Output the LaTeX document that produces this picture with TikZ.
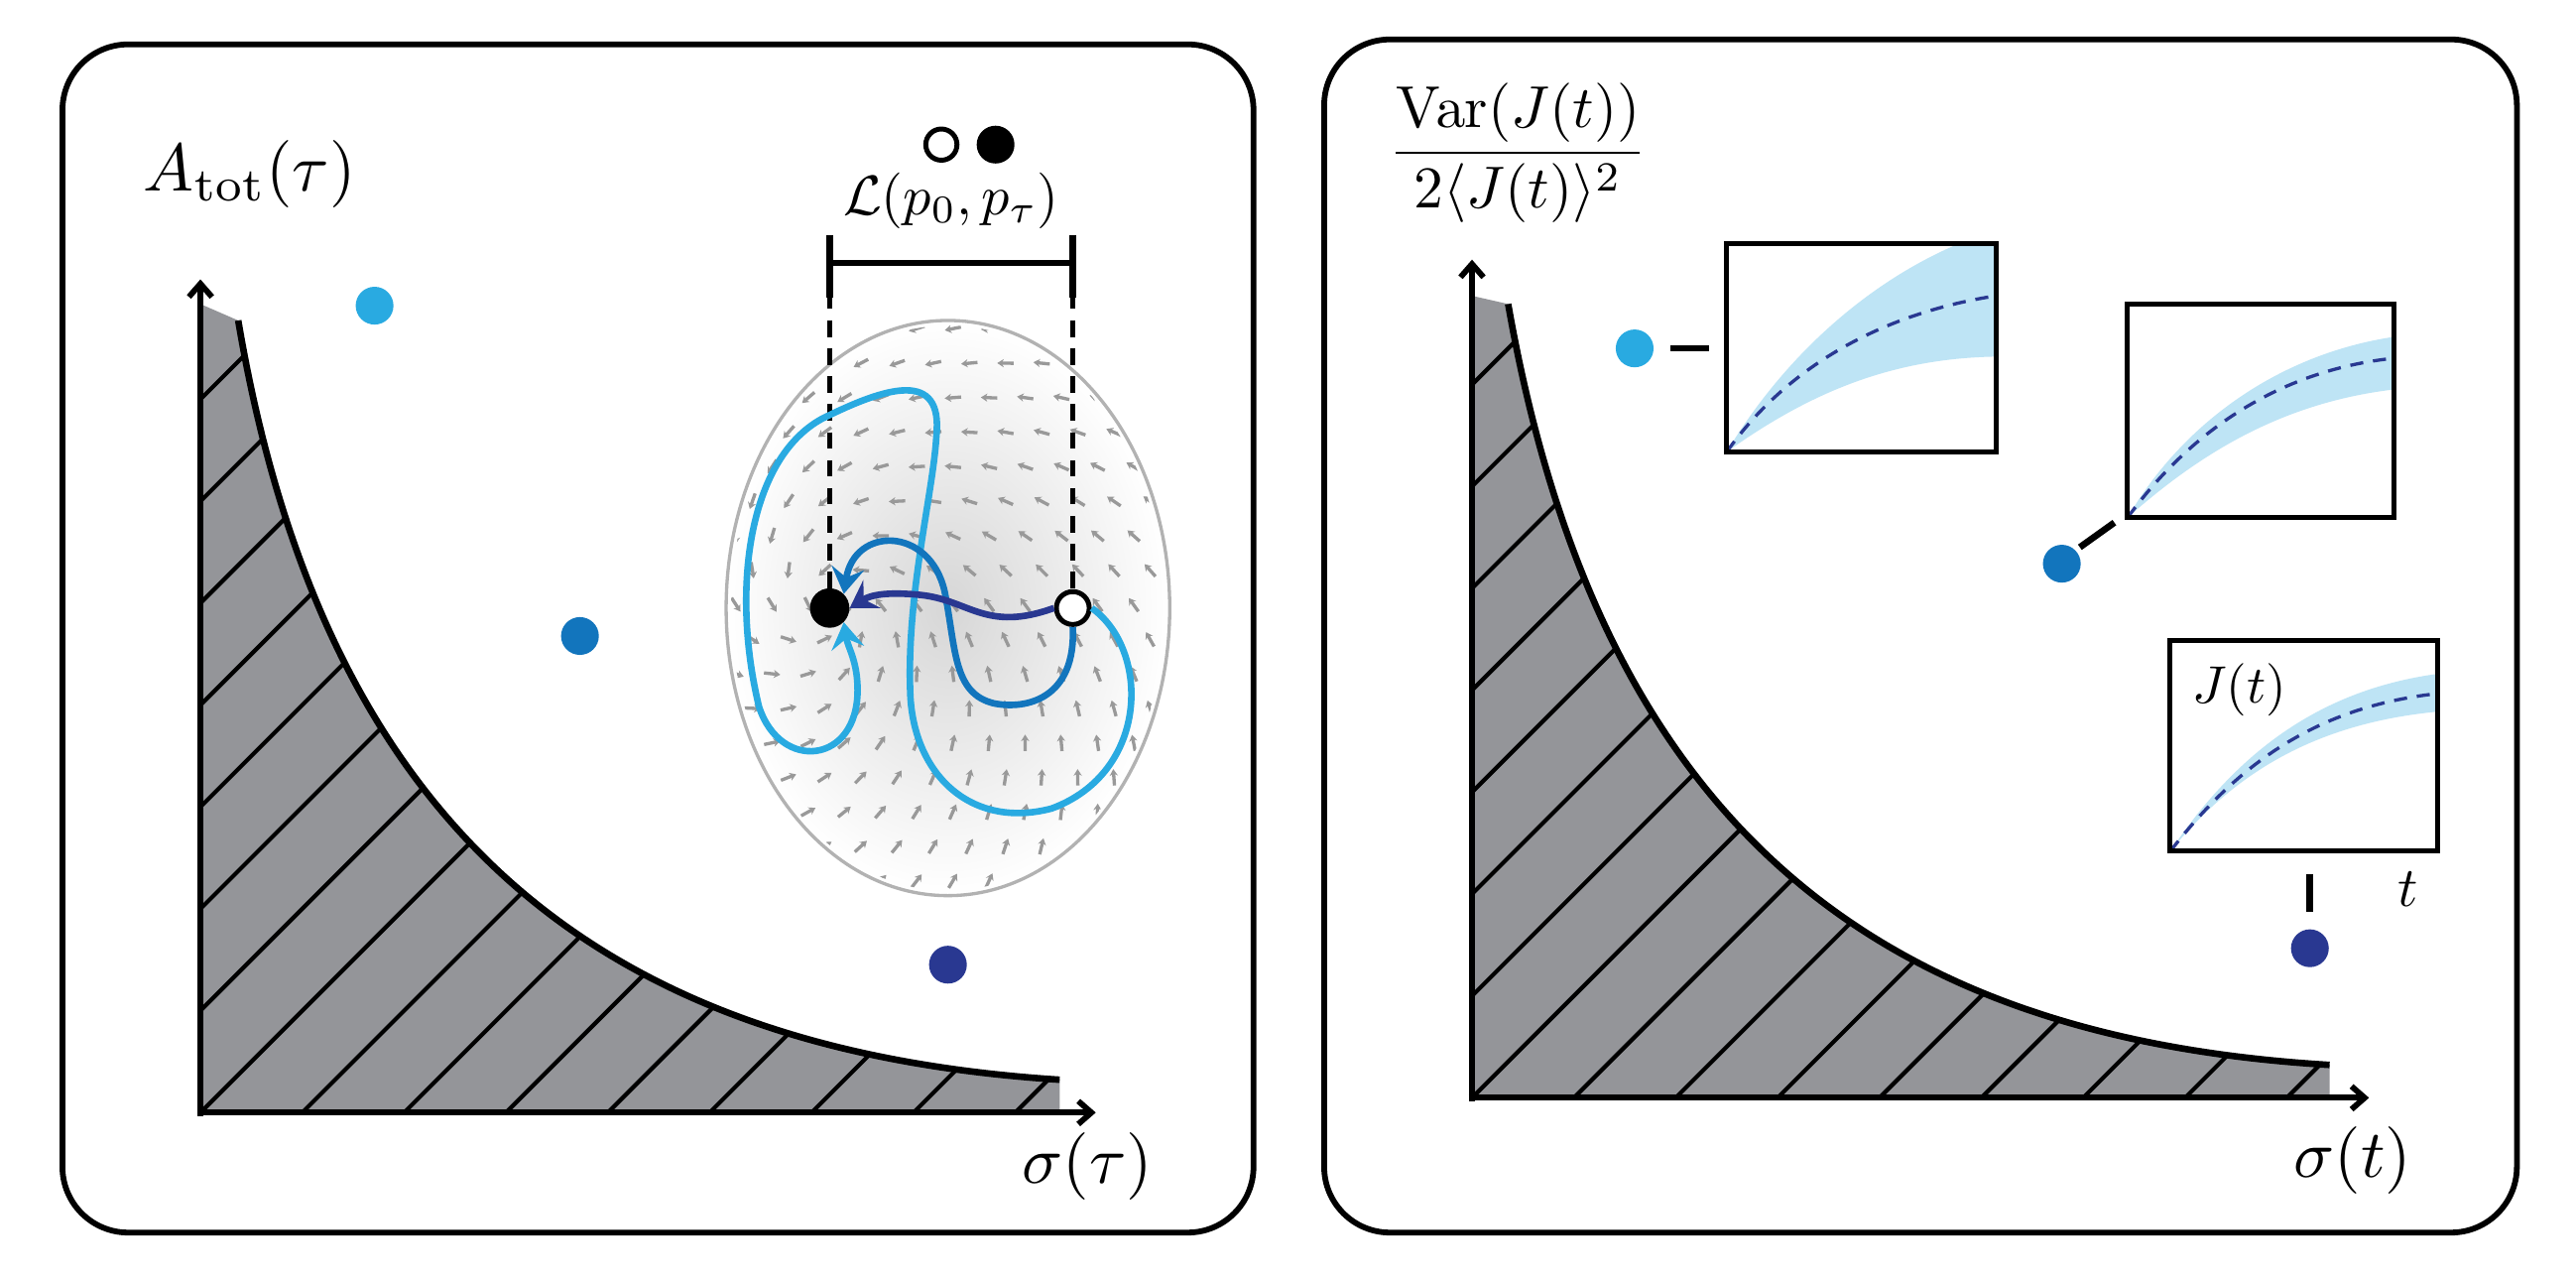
\documentclass[tikz,border=0pt]{standalone}
\usepackage{amsmath}
\usepackage{graphicx}
\usetikzlibrary{arrows.meta}
\definecolor{cLight}{RGB}{41,170,225}
\definecolor{cMid}{RGB}{18,117,189}
\definecolor{cDark}{RGB}{41,56,145}
\definecolor{band}{RGB}{190,228,245}
\definecolor{shd}{RGB}{148,149,153}
\begin{document}
\begin{tikzpicture}[x=1pt,y=-1pt,
  panel/.style={draw,line width=3.5pt,rounded corners=40pt},
  axis/.style={line width=3.5pt,-{Straight Barb[length=8pt,width=14pt]}},
  bound/.style={line width=4pt},
  hatch/.style={line width=2.5pt},
  dotp/.style={circle,inner sep=0pt,minimum size=23pt},
  inset/.style={draw,line width=3pt,fill=white},
  tick/.style={line width=4pt},
  traj/.style={line width=4pt,-{Stealth[length=16pt,width=20pt,inset=6pt]}},
  mean/.style={cDark,line width=2pt,dash pattern=on 8pt off 6pt}]
\useasboundingbox (0,0) rectangle (1568,778);
\fill[white] (0,0) rectangle (1568,778);
% panels
\draw[panel] (38,27) rectangle (763,750);
\draw[panel] (806,24) rectangle (1532,750);
% ---- left plot
\begin{scope}
\clip (122,677)--(122,185)--(145,195) .. controls (200,520) and (380,640) .. (645,657) -- (645,677) -- cycle;
\fill[shd] (100,100) rectangle (700,700);
\foreach \k in {-10,...,9} \draw[hatch] (122+\k*62-70,747) -- ++(780,-780);
\end{scope}
\draw[bound] (145,195) .. controls (200,520) and (380,640) .. (645,657);
\draw[axis] (122,679) -- (122,170);
\draw[axis] (120,677) -- (667,677);
\node (ya) at (152,106) {\scalebox{4.1}{$A_{\rm tot}(\tau)$}};
\node (xa) at (662,710) {\scalebox{4.1}{$\sigma(\tau)$}};
\node[dotp,fill=cLight] (l1) at (228,186) {};
\node[dotp,fill=cMid] (l2) at (353,387) {};
\node[dotp,fill=cDark] (l3) at (577,587) {};
% ellipse
\shade[inner color=black!16,outer color=white] (577,370) ellipse (135 and 175);
\begin{scope}
\clip (577,370) ellipse (132 and 172);
\foreach \i in {0,...,12}{\foreach \j in {0,...,16}{
  \pgfmathsetmacro{\px}{448+\i*22+mod(\j,2)*10}
  \pgfmathsetmacro{\py}{200+\j*21}
  \pgfmathsetmacro{\dx}{505-\px}\pgfmathsetmacro{\dy}{370-\py}
  \pgfmathsetmacro{\ang}{atan2(\dy,\dx)+55}
  \draw[black!40,line width=2pt,-{Stealth[length=4pt,width=5pt]}] ({\px-5*cos(\ang)},{\py-5*sin(\ang)}) -- ++({10*cos(\ang)},{10*sin(\ang)});
}}
\end{scope}
\draw[black!30,line width=2pt] (577,370) ellipse (135 and 175);
\node[circle,fill=black,inner sep=0pt,minimum size=24pt] (sink) at (505,370) {};
\node[circle,draw,line width=3pt,fill=white,inner sep=0pt,minimum size=20pt] (src) at (653,370) {};
% dashed guides and bar
\coordinate (bl) at (505,160); \coordinate (br) at (653,160);
\draw[line width=3.5pt,dash pattern=on 10pt off 7pt] (505,178) -- (sink.north);
\draw[line width=3.5pt,dash pattern=on 10pt off 7pt] (653,178) -- (src.north);
\draw[line width=3.5pt] (bl) -- (br);
\draw[line width=4pt] (505,143) -- (505,181);
\draw[line width=4pt] (653,143) -- (653,181);
\node (L) at (579,122) {\scalebox{3.4}{$\mathcal{L}(p_0,p_\tau)$}};
\node[circle,draw,line width=3pt,fill=white,inner sep=0pt,minimum size=19pt] (lo) at (573,88) {};
\node[circle,fill=black,inner sep=0pt,minimum size=23pt] (lf) at (606,88) {};
% trajectories
\draw[traj,cLight] (src.east) .. controls (700,395) and (700,470) .. (640,492)
  .. controls (590,505) and (555,470) .. (554,420)
  .. controls (552,360) and (568,300) .. (570,265)
  .. controls (574,225) and (540,235) .. (500,255)
  .. controls (455,280) and (445,360) .. (462,430)
  .. controls (475,470) and (522,465) .. (522,420)
  .. controls (522,402) and (516,394) .. (sink.south east);
\draw[traj,cMid] (src.south) .. controls (655,425) and (625,432) .. (605,428)
  .. controls (580,422) and (582,395) .. (575,360)
  .. controls (566,320) and (520,320) .. (sink.north east);
\draw[traj,cDark] (src.west) .. controls (600,385) and (590,365) .. (560,362)
  .. controls (540,360) and (530,362) .. (sink.east);
% ---- right plot
\begin{scope}
\clip (896,668)--(896,180)--(918,185) .. controls (975,510) and (1150,632) .. (1418,648) -- (1418,668) -- cycle;
\fill[shd] (880,150) rectangle (1430,690);
\foreach \k in {-10,...,9} \draw[hatch] (896+\k*62-70,738) -- ++(780,-780);
\end{scope}
\draw[bound] (918,185) .. controls (975,510) and (1150,632) .. (1418,648);
\draw[axis] (896,670) -- (896,158);
\draw[axis] (894,668) -- (1442,668);
\node (yb) at (924,93) {\scalebox{3.6}{$\dfrac{\mathrm{Var}(J(t))}{2\langle J(t)\rangle^2}$}};
\node (xb) at (1432,706) {\scalebox{4.1}{$\sigma(t)$}};
% inset 1
\node[dotp,fill=cLight] (r1) at (995,212) {};
\draw[tick] (1017,212) -- (1040,212);
\begin{scope}
\draw[inset] (1051,148) rectangle (1215,275);
\clip (1051,148) rectangle (1215,275);
\fill[band] (1051,275) .. controls (1090,210) and (1150,160) .. (1215,140) -- (1215,217) .. controls (1150,218) and (1100,240) .. (1051,275) -- cycle;
\draw[mean] (1051,275) .. controls (1090,220) and (1150,190) .. (1215,180);
\end{scope}
\draw[line width=3pt] (1051,148) rectangle (1215,275);
% inset 2
\node[dotp,fill=cMid] (r2) at (1255,343) {};
\draw[tick] (1266,333) -- (1287,318);
\begin{scope}
\draw[inset] (1295,185) rectangle (1457,315);
\clip (1295,185) rectangle (1457,315);
\fill[band] (1295,315) .. controls (1330,255) and (1390,215) .. (1457,205) -- (1457,237) .. controls (1390,245) and (1340,275) .. (1295,315) -- cycle;
\draw[mean] (1295,315) .. controls (1335,260) and (1390,225) .. (1457,218);
\end{scope}
\draw[line width=3pt] (1295,185) rectangle (1457,315);
% inset 3
\node[dotp,fill=cDark] (r3) at (1406,577) {};
\draw[tick] (1406,532) -- (1406,555);
\begin{scope}
\draw[inset] (1321,390) rectangle (1484,518);
\clip (1321,390) rectangle (1484,518);
\fill[band] (1321,518) .. controls (1360,460) and (1410,420) .. (1484,410) -- (1484,433) .. controls (1410,440) and (1360,470) .. (1321,518) -- cycle;
\draw[mean] (1321,518) .. controls (1362,465) and (1410,430) .. (1484,422);
\end{scope}
\draw[line width=3pt] (1321,390) rectangle (1484,518);
\node (J) at (1363,420) {\scalebox{3.2}{$J(t)$}};
\node (tl) at (1466,541) {\scalebox{3.4}{$t$}};
\end{tikzpicture}
\end{document}
